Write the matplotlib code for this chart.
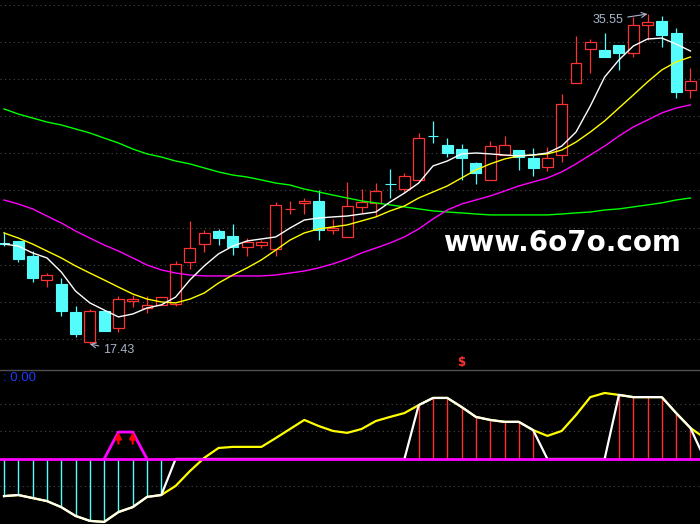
import numpy as np
import matplotlib
matplotlib.use("Agg")
import matplotlib.pyplot as plt
import matplotlib.transforms as mtransforms

# daily candles (left to right)
opens = [22.98, 23.09, 22.27, 20.95, 20.73, 19.19, 17.54, 19.25, 18.31, 19.80,
         19.41, 19.58, 19.63, 21.94, 22.92, 23.64, 23.36, 22.76, 22.87, 22.65,
         24.85, 25.18, 25.28, 23.69, 23.31, 24.96, 25.18, 26.22, 25.94, 26.44,
         28.85, 28.36, 28.14, 27.37, 26.44, 27.81, 28.09, 27.65, 27.15, 27.81,
         31.76, 33.63, 33.58, 33.85, 33.41, 34.95, 35.17, 34.51, 31.38]
highs = [23.58, 23.09, 22.54, 21.33, 21.06, 19.52, 19.36, 19.25, 20.07, 20.12,
         20.07, 20.02, 21.99, 24.19, 23.69, 23.75, 24.02, 23.25, 23.14, 25.23,
         25.28, 25.45, 25.89, 24.30, 26.33, 25.94, 26.27, 27.04, 26.82, 29.02,
         29.68, 28.74, 28.41, 27.43, 28.58, 28.85, 28.09, 28.19, 28.25, 31.16,
         34.34, 34.18, 34.51, 33.85, 35.39, 35.55, 35.44, 34.78, 32.59]
lows = [22.81, 21.94, 20.84, 20.56, 18.97, 17.82, 17.43, 18.15, 18.09, 19.47,
        19.14, 19.58, 19.52, 21.55, 22.49, 22.87, 22.32, 22.27, 22.70, 22.27,
        24.57, 24.57, 23.14, 23.47, 23.31, 24.63, 24.46, 25.45, 25.78, 26.44,
        28.47, 27.70, 26.44, 26.22, 26.44, 27.81, 26.99, 26.66, 26.93, 27.43,
        31.76, 32.31, 33.19, 32.48, 33.19, 34.12, 33.74, 30.94, 30.94]
closes = [22.95, 22.10, 21.06, 21.22, 19.25, 17.98, 19.25, 18.15, 19.91, 19.91,
          19.58, 20.02, 21.83, 22.70, 23.53, 23.25, 22.76, 23.03, 23.03, 25.07,
          24.87, 25.28, 23.69, 23.80, 25.01, 25.23, 25.83, 26.20, 26.66, 28.74,
          28.83, 27.92, 27.65, 26.82, 28.30, 28.36, 27.70, 27.10, 27.65, 30.61,
          32.86, 34.01, 33.19, 33.41, 34.95, 35.11, 34.40, 31.27, 31.87]

# moving averages as drawn
ma_white = [22.92, 22.81, 22.43, 22.16, 21.39, 20.34, 19.69, 19.30, 18.92, 19.08,
            19.41, 19.58, 20.01, 20.95, 21.72, 22.38, 22.81, 23.09, 23.20, 23.31,
            23.80, 24.24, 24.35, 24.41, 24.46, 24.57, 24.68, 25.23, 25.72, 26.27,
            27.21, 27.48, 27.87, 27.92, 27.87, 27.81, 27.76, 27.81, 27.92, 28.30,
            29.07, 30.50, 32.09, 33.03, 33.79, 34.18, 34.23, 33.90, 33.52]
ma_yellow = [23.53, 23.25, 22.92, 22.54, 22.16, 21.72, 21.33, 20.95, 20.56, 20.18,
             19.90, 19.74, 19.69, 19.90, 20.23, 20.78, 21.22, 21.61, 22.05, 22.59,
             23.14, 23.53, 23.75, 23.86, 23.97, 24.19, 24.41, 24.74, 25.01, 25.45,
             25.78, 26.11, 26.55, 26.99, 27.32, 27.59, 27.76, 27.81, 27.87, 28.08,
             28.52, 29.07, 29.68, 30.39, 31.10, 31.82, 32.48, 32.92, 33.19]
ma_magenta = [25.34, 25.12, 24.85, 24.46, 24.08, 23.64, 23.25, 22.87, 22.54, 22.16,
              21.77, 21.50, 21.33, 21.22, 21.17, 21.17, 21.17, 21.17, 21.17, 21.22,
              21.33, 21.44, 21.61, 21.83, 22.10, 22.43, 22.70, 22.98, 23.31, 23.75,
              24.30, 24.79, 25.12, 25.34, 25.56, 25.83, 26.11, 26.33, 26.55, 26.88,
              27.32, 27.81, 28.30, 28.85, 29.35, 29.73, 30.12, 30.39, 30.56]
ma_green = [30.34, 30.06, 29.84, 29.62, 29.46, 29.24, 29.02, 28.74, 28.47, 28.14,
            27.87, 27.70, 27.48, 27.32, 27.10, 26.88, 26.71, 26.60, 26.44, 26.27,
            26.16, 25.94, 25.78, 25.61, 25.45, 25.29, 25.18, 25.07, 24.96, 24.85,
            24.74, 24.68, 24.63, 24.57, 24.52, 24.52, 24.52, 24.52, 24.52, 24.57,
            24.63, 24.68, 24.79, 24.85, 24.96, 25.07, 25.18, 25.34, 25.45]

# lower indicator (one extra point past the right edge)
osc = [-13.5, -13.1, -14.2, -15.3, -17.5, -20.7, -22.5, -22.9, -19.3, -17.5,
       -13.8, -13.1, -9.8, -4.4, 0.4, 4.0, 4.4, 4.4, 4.4, 7.6,
       10.9, 14.2, 12.0, 10.2, 9.5, 10.9, 13.8, 15.3, 16.7, 19.6,
       22.2, 22.2, 18.9, 15.3, 14.2, 13.5, 13.5, 10.5, 8.4, 10.2,
       16.0, 22.5, 24.0, 23.3, 22.5, 22.5, 22.5, 16.7, 11.3, 7.6]
osc_zone = [1, 1, 1, 1, 1, 1, 1, 1, 1, 1,
            1, 1, 0, 0, 0, 0, 0, 0, 0, 0,
            0, 0, 0, 0, 0, 0, 0, 0, 0, 1,
            1, 1, 1, 1, 1, 1, 1, 1, 0, 0,
            0, 0, 0, 1, 1, 1, 1, 1, 1, 0]
sig_idx = [7, 8, 9, 10]
sig_val = [0, 9.8, 9.8, 0]
mark_idx = 32

RED = "#ff3232"
CYAN = "#54fcfc"
GRID = "#4a4a4a"
LABEL = "#a8b4c8"

fig = plt.figure(figsize=(7, 5.24), dpi=100, facecolor="black")
ax = fig.add_axes([0, 155 / 524, 1, 369 / 524])
ax2 = fig.add_axes([0, 0, 1, 154 / 524])
for a in (ax, ax2):
    a.set_facecolor("black")
    a.set_xticks([])
    a.set_yticks([])
    for s in a.spines.values():
        s.set_visible(False)
    a.set_xlim(-0.28, 48.67)
ax2.spines["top"].set_visible(True)
ax2.spines["top"].set_color("#505050")
ax2.spines["top"].set_linewidth(1)

# ---- price panel
ax.set_ylim(16.06, 36.32)
for gy in np.linspace(36.05, 17.71, 10):
    ax.axhline(gy, color=GRID, lw=0.8, ls=(0, (1, 3)), zorder=0)

o, h, l, c = map(np.array, (opens, highs, lows, closes))
x = np.arange(len(o))
up = c >= o
top = np.maximum(o, c)
bot = np.minimum(o, c)
w = 0.76

ax.vlines(x[~up], l[~up], h[~up], color=CYAN, lw=0.9, zorder=2)
ax.bar(x[~up], (top - bot)[~up], w, bottom=bot[~up], color=CYAN,
       edgecolor=CYAN, lw=0.8, zorder=2)
ax.vlines(x[up], top[up], h[up], color=RED, lw=0.9, zorder=2)
ax.vlines(x[up], l[up], bot[up], color=RED, lw=0.9, zorder=2)
ax.bar(x[up], (top - bot)[up], w, bottom=bot[up], facecolor="black",
       edgecolor=RED, lw=0.9, zorder=2)

ax.plot(x, ma_green, color="#00ff00", lw=1.0, zorder=3)
ax.plot(x, ma_magenta, color="#ff00ff", lw=1.0, zorder=3)
ax.plot(x, ma_yellow, color="#ffff00", lw=1.0, zorder=3)
ax.plot(x, ma_white, color="white", lw=1.0, zorder=3)

hi = int(np.argmax(h))
lo = int(np.argmin(l))
ax.annotate(f"{h[hi]:.2f}", xy=(hi, h[hi]), xytext=(-24, -6),
            textcoords="offset pixels", ha="right", va="center",
            color=LABEL, fontsize=9, family="Liberation Sans",
            arrowprops=dict(arrowstyle="->", color=LABEL, lw=0.8,
                            shrinkA=1, shrinkB=0))
ax.annotate(f"{l[lo]:.2f}", xy=(lo, l[lo]), xytext=(13, -6),
            textcoords="offset pixels", ha="left", va="center",
            color=LABEL, fontsize=9, family="Liberation Sans",
            arrowprops=dict(arrowstyle="->", color=LABEL, lw=0.8,
                            shrinkA=1, shrinkB=0))

trans = mtransforms.blended_transform_factory(ax.transData, ax.transAxes)
ax.text(mark_idx, 0.018, "$", transform=trans, ha="center", va="center",
        color=RED, fontsize=8.5, fontweight="bold")

fig.text(443 / 700, (524 - 251) / 524, "www.6o7o.com", color="white",
         fontsize=20, fontweight="bold", family="DejaVu Sans",
         ha="left", va="baseline")

# ---- indicator panel
ax2.set_ylim(-23.64, 32.36)
for gv in (20, 10, -10):
    ax2.axhline(gv, color=GRID, lw=0.8, ls=(0, (1, 3)), zorder=0)

v = np.array(osc)
z = np.array(osc_zone, dtype=bool)
xi = np.arange(len(v))
neg = z & (v < 0)
pos = z & (v > 0)
ax2.vlines(xi[neg], v[neg], 0, color=CYAN, lw=1, zorder=2)
ax2.vlines(xi[pos], 0, v[pos], color=RED, lw=1, zorder=2)
ax2.plot(xi, v, color="#ffff00", lw=1.6, zorder=3)
ax2.plot(xi, np.where(z, v, 0), color="white", lw=1.6, zorder=4)
ax2.axhline(0, color="#ff00ff", lw=2, zorder=5)
ax2.plot(sig_idx, sig_val, color="#ff00ff", lw=2, zorder=6)
for i, s in zip(sig_idx, sig_val):
    if s > 0:
        ax2.annotate("", xy=(i, s), xytext=(i, s - 4.2),
                     arrowprops=dict(arrowstyle="-|>", color="red", lw=1.6,
                                     mutation_scale=9, shrinkA=0, shrinkB=0),
                     zorder=7)

fig.text(3 / 700, (524 - 378) / 524, ": 0.00", color="#1a3cff",
         fontsize=9.5, family="Liberation Sans", ha="left", va="center")

fig.savefig("out.png", dpi=100, facecolor="black")
